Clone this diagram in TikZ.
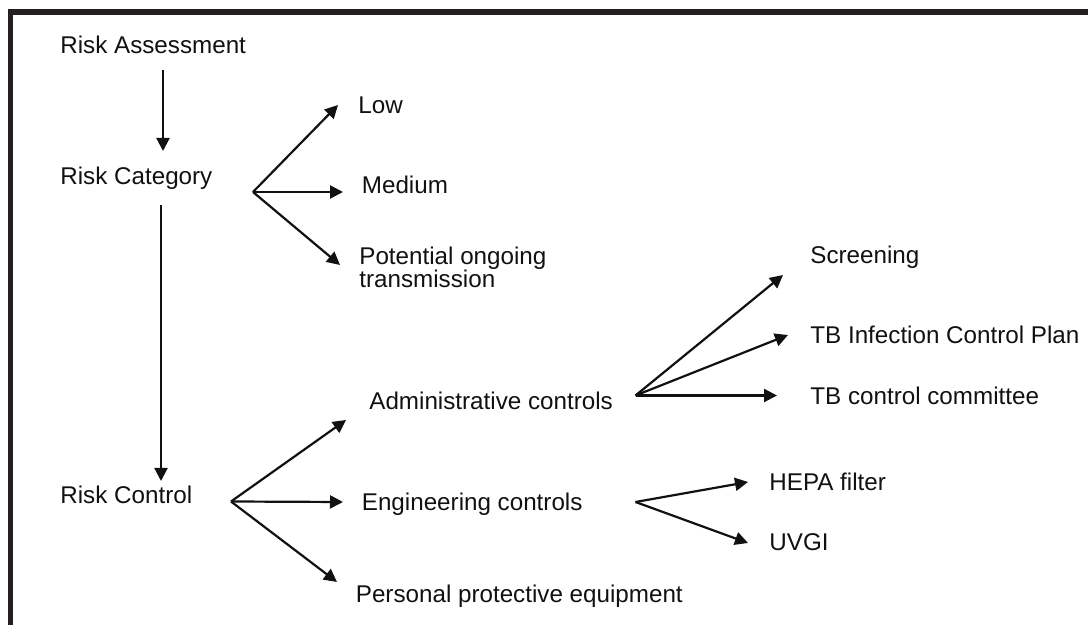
\documentclass[tikz,border=0pt]{standalone}
\usepackage{fontspec}
\setmainfont{Liberation Sans}
\usepackage{xcolor}
\usetikzlibrary{arrows.meta}
\definecolor{ink}{HTML}{111111}
\definecolor{frameline}{HTML}{231F20}

\begin{document}
\begin{tikzpicture}[
    x=0.5pt, y=-0.5pt,
    item/.style={anchor=base west, inner sep=0pt, align=left, text=ink,
      font=\fontsize{12.1pt}{11.5pt}\selectfont},
    arrow/.style={-{Triangle[length=6.5pt,width=6.5pt]}, line width=1.1pt, draw=ink},
    frame/.style={draw=frameline, line width=2.75pt}
  ]
    \useasboundingbox (0,0) rectangle (1088,625);
    \clip (0,0) rectangle (1088,625);
    \draw[frame] (10.5,12) rectangle (1130,680);

    \node[item] (assess) at (60,53.5) {Risk Assessment};
    \node[item] (category) at (60,185) {Risk Category};
    \node[item] (control) at (60,503.5) {Risk Control};

    \node[item] (low) at (358,114) {Low};
    \node[item] (medium) at (361.5,194) {Medium};
    \node[item] (potential) at (359,288) {Potential ongoing\\transmission};

    \node[item] (admin) at (369,410) {Administrative controls};
    \node[item] (engin) at (361.5,510.5) {Engineering controls};
    \node[item] (ppe) at (355.5,603) {Personal protective equipment};

    \node[item] (screen) at (810,264) {Screening};
    \node[item] (plan) at (810,344) {TB Infection Control Plan};
    \node[item] (committee) at (810,405) {TB control committee};
    \node[item] (hepa) at (769,490.5) {HEPA filter};
    \node[item] (uvgi) at (769,550.5) {UVGI};

    \coordinate (catfan) at (253,192);
    \coordinate (ctrlfan) at (231,501.5);
    \coordinate (adminfan) at (635.5,395.5);
    \coordinate (enginfan) at (635.5,502);

    \draw[arrow] ([xshift=51.5pt,yshift=-8.25pt]assess.base west)
      -- ([xshift=51.5pt,yshift=17pt]category.base west);
    \draw[arrow] ([xshift=50.5pt,yshift=-10pt]category.base west)
      -- ([xshift=50.5pt,yshift=11.25pt]control.base west);

    \draw[arrow] (catfan) -- ([xshift=-10pt,yshift=4.5pt]low.base west);
    \draw[arrow] (catfan) -- ([xshift=-9.25pt,yshift=1pt]medium.base west);
    \draw[arrow] (catfan) -- ([xshift=-9.5pt,yshift=11.5pt]potential.base west);

    \draw[arrow] (ctrlfan) -- ([xshift=-11.5pt,yshift=-5pt]admin.base west);
    \draw[arrow] (ctrlfan) -- ([xshift=-9.25pt,yshift=4.25pt]engin.base west);
    \draw[arrow] (ctrlfan) -- ([xshift=-9.25pt,yshift=10.5pt]ppe.base west);

    \draw[arrow] (adminfan) -- ([xshift=-13.5pt,yshift=-5.5pt]screen.base west);
    \draw[arrow] (adminfan) -- ([xshift=-11pt,yshift=4.5pt]plan.base west);
    \draw[arrow] (adminfan) -- ([xshift=-16.5pt,yshift=4.75pt]committee.base west);

    \draw[arrow] (enginfan) -- ([xshift=-10.5pt,yshift=4.25pt]hepa.base west);
    \draw[arrow] (enginfan) -- ([xshift=-10.5pt,yshift=3.75pt]uvgi.base west);
  \end{tikzpicture}
\end{document}
